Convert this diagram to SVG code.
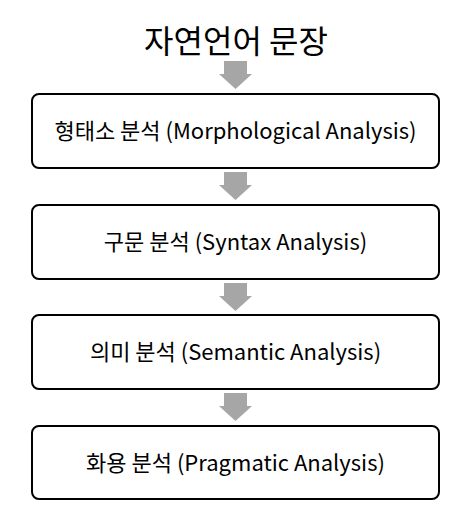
<svg xmlns="http://www.w3.org/2000/svg" width="474" height="528" viewBox="0 0 474 528">
<style>
  .box { fill: #ffffff; stroke: #000000; stroke-width: 2; }
  .lbl { font-family: "Noto Sans CJK KR", "Noto Sans", sans-serif; font-size: 22px; fill: #000000; text-anchor: middle; }
  .title { font-family: "Noto Sans CJK KR", "Noto Sans", sans-serif; font-size: 32px; fill: #000000; text-anchor: middle; }
  .arrow { fill: #a6a6a6; }
</style>
<defs>
  <polygon id="dn" points="-11.5,0 11.5,0 11.5,13 16.5,13 0,28 -16.5,13 -11.5,13"/>
</defs>
<rect width="474" height="528" fill="#ffffff"/>
<g id="title"><text class="title" x="236" y="53">자연언어 문장</text></g>
<g id="connectors">
  <use href="#dn" class="arrow" x="235.5" y="61"/>
  <use href="#dn" class="arrow" x="235.5" y="172"/>
  <use href="#dn" class="arrow" x="235.5" y="283"/>
  <use href="#dn" class="arrow" x="235.5" y="393"/>
</g>
<g id="morph">
  <rect class="box" x="32" y="94" width="407" height="74" rx="7"/>
  <text class="lbl" x="235.5" y="139">형태소 분석 (Morphological Analysis)</text>
</g>
<g id="syntax">
  <rect class="box" x="32" y="205" width="407" height="74" rx="7"/>
  <text class="lbl" x="235.5" y="250">구문 분석 (Syntax Analysis)</text>
</g>
<g id="semantic">
  <rect class="box" x="32" y="315" width="407" height="74" rx="7"/>
  <text class="lbl" x="235.5" y="360">의미 분석 (Semantic Analysis)</text>
</g>
<g id="pragmatic">
  <rect class="box" x="32" y="426" width="407" height="73" rx="7"/>
  <text class="lbl" x="235.5" y="471">화용 분석 (Pragmatic Analysis)</text>
</g>
</svg>
